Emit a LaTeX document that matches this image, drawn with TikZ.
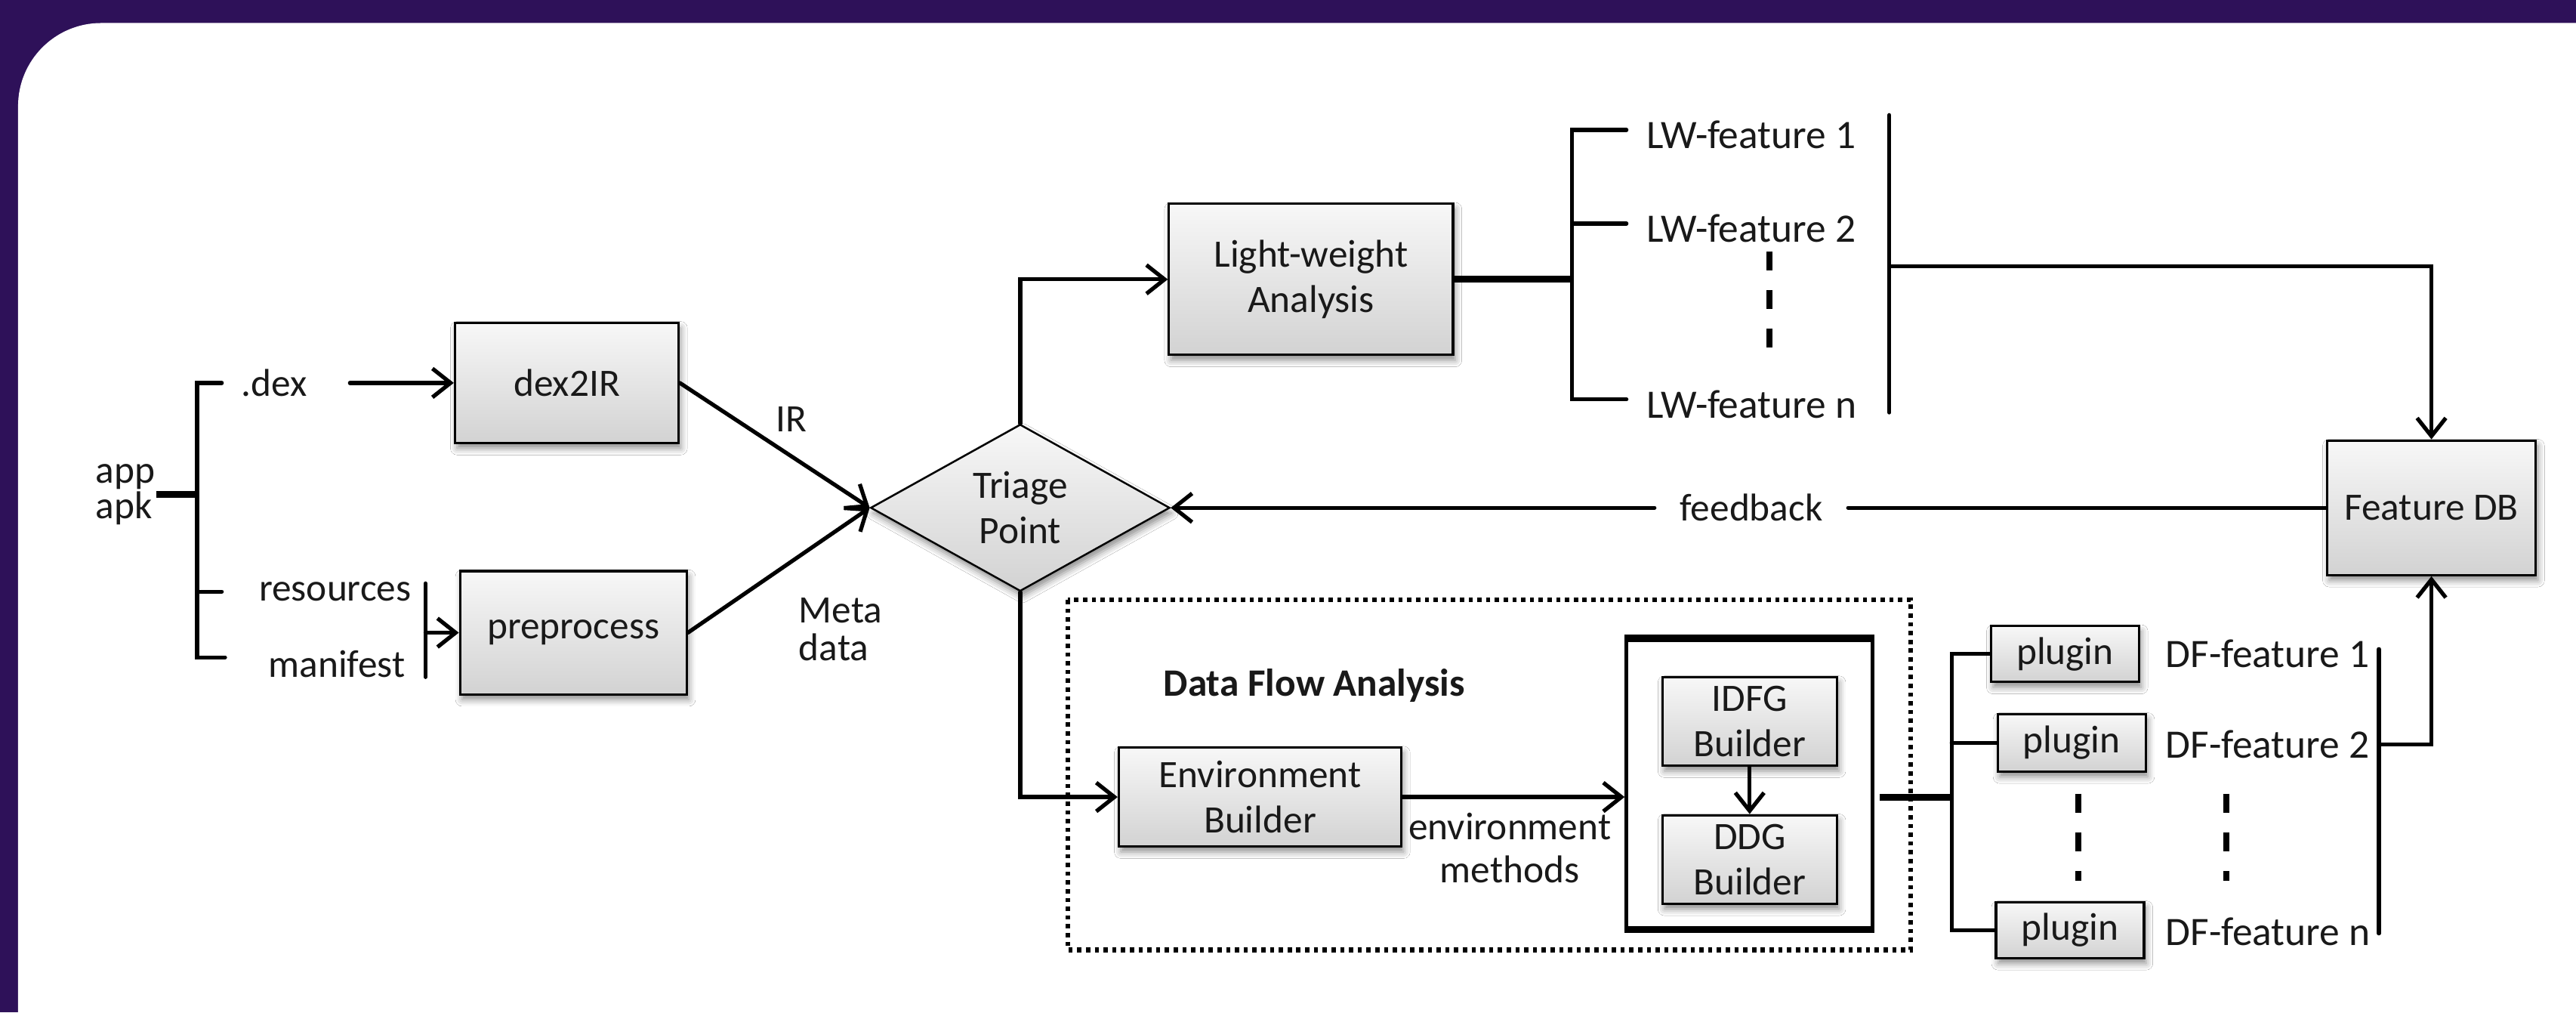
\documentclass[tikz,border=0pt]{standalone}
\usepackage{fontspec}
\setmainfont{Carlito}
\usetikzlibrary{arrows.meta,shapes.geometric,shadows.blur,calc}
\definecolor{framepurple}{RGB}{46,17,89}
\definecolor{txt}{RGB}{25,25,25}
\begin{document}
\begin{tikzpicture}[x=0.02175cm,y=-0.02175cm,
  font=\fontsize{14.6}{17}\selectfont, text=txt,
  box/.style={draw=black, line width=0.9pt, top color=gray!6, bottom color=gray!35,
    align=center, inner sep=0pt,
    blur shadow={shadow xshift=0.8pt, shadow yshift=-2pt, shadow blur radius=2.5pt, shadow opacity=45}},
  lbl/.style={inner sep=0pt, align=center},
  feat/.style={inner sep=0pt, anchor=west, font=\fontsize{15.2}{17}\selectfont},
  conn/.style={line width=1.5pt, line cap=round},
  stub/.style={line width=2.6pt},
  arr/.style={conn, -{Straight Barb[length=2.4mm,width=3.8mm]}},
  ellip/.style={line width=2.2pt, dash pattern=on 0.25cm off 0.26cm},
  dotbox/.style={line width=1.8pt, dash pattern=on 1.6pt off 1.7pt},
]
% frame
\useasboundingbox (0,0) rectangle (1568,616);
\fill[framepurple] (0,0) rectangle (1568,616);
\fill[white, rounded corners=1.1cm] (11,14) rectangle (1620,680);

% left inputs
\node[lbl, anchor=west, align=left, font=\fontsize{14.6}{13.5}\selectfont] (app) at (58,301) {app\\apk};
\node[lbl] (dex) at (167,233) {.dex};
\node[lbl] (res) at (204,360) {resources};
\node[lbl] (man) at (205,404) {manifest};

\coordinate (stubL) at (95,301);
\coordinate (trunkM) at (120,301);
\coordinate (tTop) at (120,233);
\coordinate (tBot) at (120,400);
\coordinate (bDex) at (135,233);
\coordinate (bRes) at (135,360);
\coordinate (bMan) at (137,400);
\draw[stub] (stubL) -- (trunkM);
\draw[conn] (bDex) -- (tTop) -- (tBot) -- (bMan);
\draw[conn] (trunkM |- bRes) -- (bRes);

% boxes
\node[box, minimum width=2.96cm, minimum height=1.59cm] (dex2ir) at (345,233) {dex2IR};
\node[box, minimum width=3.00cm, minimum height=1.63cm] (pre) at (349,385) {preprocess};

\coordinate (dexA) at (213,233);
\draw[arr] (dexA) -- (dex2ir.west);
\coordinate (barT) at (259,355);
\coordinate (barB) at (259,412);
\draw[conn] (barT) -- (barB);
\draw[arr] (barT |- pre.west) -- (pre.west);

% triage
\node[box, diamond, line width=0.7pt, minimum width=3.96cm, minimum height=2.04cm] (tri) at (621,309) {Triage\\Point};
\draw[arr] (dex2ir.east) -- (tri.west);
\draw[arr] (pre.east) -- (tri.west);
\node[lbl, anchor=west] (irl) at (472,255) {IR};
\node[lbl, anchor=west, align=left, font=\fontsize{14.6}{14}\selectfont] (meta) at (486,383) {Meta\\data};

% light-weight
\node[box, minimum width=3.76cm, minimum height=2.00cm] (lw) at (798,170) {Light-weight\\Analysis};
\draw[arr] (tri.north) |- (lw.west);
\coordinate (lwT) at (957,170);
\draw[stub] (lw.east) -- (lwT);
\coordinate (lw1) at (990,79);
\coordinate (lw2) at (990,136);
\coordinate (lwn) at (990,243);
\draw[conn] (lw1) -- (lwT |- lw1) -- (lwT |- lwn) -- (lwn);
\draw[conn] (lwT |- lw2) -- (lw2);
\node[feat] (lwf1) at (1002,82) {LW-feature 1};
\node[feat] (lwf2) at (1002,139) {LW-feature 2};
\node[feat] (lwfn) at (1002,246) {LW-feature n};
\coordinate (lwdA) at (1077,153);
\coordinate (lwdB) at (1077,214);
\draw[ellip] (lwdA) -- (lwdB);
\coordinate (lwbT) at (1150,70);
\coordinate (lwbB) at (1150,251);
\draw[conn] (lwbT) -- (lwbB);

% feature DB
\node[box, minimum width=2.76cm, minimum height=1.78cm] (fdb) at (1480,309) {Feature DB};
\coordinate (lwbM) at (1150,162);
\draw[arr] (lwbM) -| (fdb.north);
\node[lbl, inner xsep=0.33cm] (fb) at (1066,309) {feedback};
\draw[conn] (fdb.west) -- (fb.east);
\draw[arr] (fb.west) -- (tri.east);

% data flow analysis
\draw[dotbox] (650,365) rectangle (1163,578);
\node[lbl, font=\fontsize{14.6}{17}\selectfont\bfseries] (dfa) at (800,417) {Data Flow Analysis};
\node[box, minimum width=3.74cm, minimum height=1.31cm] (envb) at (767,485) {Environment\\Builder};
\draw[arr] (tri.south) |- (envb.west);
\node[draw=black, line width=1.4pt, fill=white, minimum width=3.26cm, minimum height=3.81cm, inner sep=0pt] (outer) at (1065,477) {};
\draw[line width=2.6pt] (outer.north west) -- (outer.north east);
\draw[line width=2.6pt] (outer.south west) -- (outer.south east);
\draw[arr] (envb.east) -- (envb.east -| outer.west);
\node[lbl, font=\fontsize{14.6}{16}\selectfont] (envm) at (919,516) {environment\\methods};
\node[box, minimum width=2.31cm, minimum height=1.17cm] (idfg) at (1065,439) {IDFG\\Builder};
\node[box, minimum width=2.31cm, minimum height=1.17cm] (ddg) at (1065,523) {DDG\\Builder};
\draw[arr] (idfg.south) -- (ddg.north);

% plugins
\coordinate (dfT) at (1188,485);
\draw[stub] (dfT -| outer.east) ++(3,0) -- (dfT);
\node[box, minimum width=1.96cm, minimum height=0.74cm] (pl1) at (1257,398) {plugin};
\node[box, minimum width=1.96cm, minimum height=0.76cm] (pl2) at (1261,452) {plugin};
\node[box, minimum width=1.96cm, minimum height=0.74cm] (pl3) at (1260,566) {plugin};
\draw[conn] (pl1.west) -- (dfT |- pl1.west) -- (dfT |- pl3.west) -- (pl3.west);
\draw[conn] (dfT |- pl2.west) -- (pl2.west);
\coordinate (pdA) at (1265,483);
\coordinate (pdB) at (1265,536);
\draw[ellip] (pdA) -- (pdB);
\node[feat] (df1) at (1318,398) {DF-feature 1};
\node[feat] (df2) at (1318,453) {DF-feature 2};
\node[feat] (dfn) at (1318,567) {DF-feature n};
\coordinate (fdA) at (1355,483);
\coordinate (fdB) at (1355,536);
\draw[ellip] (fdA) -- (fdB);
\coordinate (dfbT) at (1448,395);
\coordinate (dfbB) at (1448,568);
\draw[conn] (dfbT) -- (dfbB);
\coordinate (dfbM) at (1448,453);
\draw[arr] (dfbM) -| (fdb.south);
\end{tikzpicture}
\end{document}
